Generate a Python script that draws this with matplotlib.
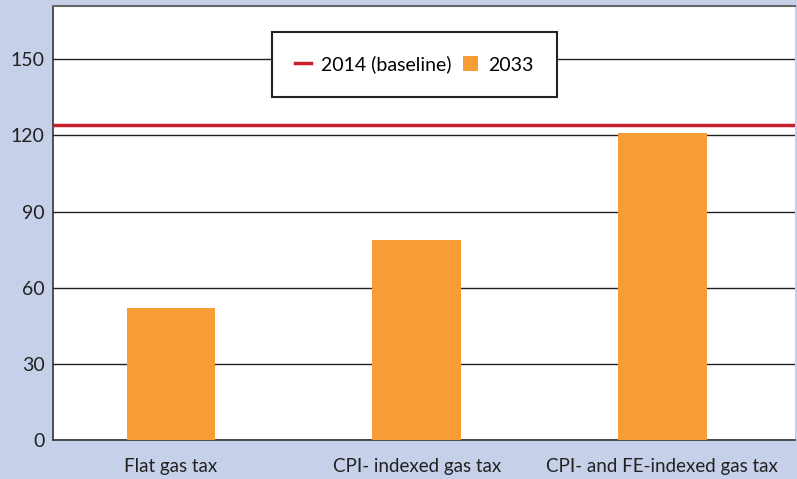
import matplotlib.pyplot as plt
from matplotlib.lines import Line2D
from matplotlib.patches import Patch

plt.rcParams['font.family'] = ['Lato', 'DejaVu Sans']

categories = ['Flat gas tax', 'CPI- indexed gas tax', 'CPI- and FE-indexed gas tax']
values_2033 = [52, 79, 121]
baseline_2014 = 124
yticks = [0, 30, 60, 90, 120, 150]

bg = '#c6d0e9'
orange = '#f79d35'
red = '#c8202f'

fig = plt.figure(figsize=(7.97, 4.79), dpi=100, facecolor=bg)
ax = fig.add_axes([0.0665, 0.0814, 0.931, 0.906])
ax.set_facecolor('white')

x = range(len(categories))
ax.bar(x, values_2033, width=0.36, color=orange, zorder=3)
ax.axhline(baseline_2014, color=red, linewidth=2.5, zorder=4)

ax.set_ylim(0, 171)
ax.set_xlim(-0.48, 2.54)
ax.set_yticks(yticks)
ax.set_yticklabels([str(t) for t in yticks], fontsize=14, color='#222222')
ax.set_xticks(list(x))
ax.set_xticklabels(categories, fontsize=13.5, color='#222222')
ax.tick_params(length=0)
ax.tick_params(axis='x', pad=13)
ax.tick_params(axis='y', pad=6)
ax.yaxis.grid(True, color='#222222', linewidth=1, zorder=1)
ax.set_axisbelow(True)

for side in ['left', 'bottom']:
    ax.spines[side].set_color('#333333')
    ax.spines[side].set_linewidth(1.2)
ax.spines['top'].set_color('#666666')
ax.spines['top'].set_linewidth(1.5)
ax.spines['right'].set_visible(False)

handles = [Line2D([0], [0], color=red, linewidth=2.5),
           Patch(facecolor=orange, edgecolor='none')]
leg = ax.legend(handles, ['2014 (baseline)', '2033'], ncol=2, loc='center',
                bbox_to_anchor=(0.487, 0.865), fontsize=14, frameon=True,
                fancybox=False, edgecolor='#222222', framealpha=1,
                handlelength=0.8, handleheight=0.8, handletextpad=0.5,
                columnspacing=0.6, borderpad=1.2)
leg.get_frame().set_linewidth(1.5)
leg.set_zorder(5)

fig.savefig('out.png', dpi=100, facecolor=bg)
